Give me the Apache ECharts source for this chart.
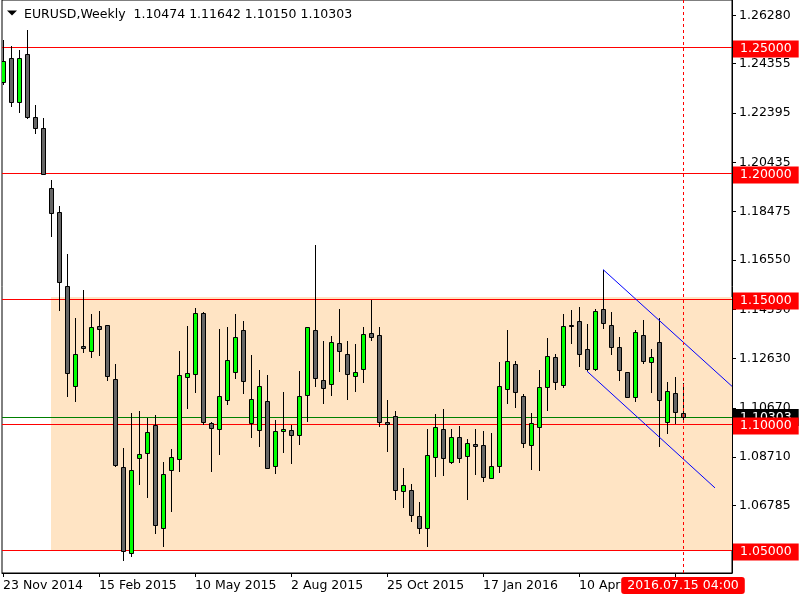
<!DOCTYPE html>
<html><head><meta charset="utf-8">
<script src="https://cdn.jsdelivr.net/npm/echarts@6/dist/echarts.min.js"></script>
<style>html,body{margin:0;padding:0;background:#fff}#c{width:800px;height:600px}</style>
</head><body><div id="c"></div>
<script>
const symbolTitle = 'EURUSD,Weekly';
const opens = [1.2361,1.2460,1.2285,1.2473,1.2222,1.2178,1.1943,1.1846,1.1552,1.1153,
1.1314,1.1295,1.1392,1.1395,1.1180,1.0832,1.0492,1.0866,1.0886,1.0998,
1.0588,1.0819,1.0862,1.1191,1.1200,1.1446,1.1006,1.0985,1.1100,1.1210,
1.1375,1.1005,1.0981,1.1096,1.0834,1.0977,1.0981,1.0961,1.1120,1.1376,
1.1176,1.1164,1.1327,1.1283,1.1192,1.1220,1.1363,1.1355,1.1009,1.1033,
1.0735,1.0739,1.0639,1.0591,1.0870,1.0985,1.0850,1.0953,1.0874,1.0922,
1.0918,1.0790,1.0834,1.1144,1.1240,1.1116,1.0918,1.0993,1.1152,1.1271,
1.1160,1.1397,1.1412,1.1300,1.1220,1.1462,1.1395,1.1311,1.1208,1.1112,
1.1355,1.1248,1.1331,1.1009,1.1128,1.10474];
const highs = [1.2529,1.2505,1.2492,1.2569,1.2271,1.2218,1.1975,1.1869,1.1678,1.1425,
1.1535,1.1442,1.1452,1.1396,1.1241,1.0906,1.1045,1.1054,1.1025,1.1038,
1.0852,1.0903,1.1292,1.1392,1.1466,1.1448,1.1009,1.1380,1.1387,1.1440,
1.1412,1.1279,1.1217,1.1197,1.1018,1.1129,1.0998,1.1214,1.1388,1.1714,
1.1332,1.1352,1.1460,1.1332,1.1320,1.1387,1.1495,1.1387,1.1098,1.1054,
1.0830,1.0764,1.0691,1.0982,1.1041,1.1062,1.0985,1.0994,1.0945,1.0985,
1.0977,1.0969,1.1248,1.1375,1.1252,1.1124,1.1045,1.1217,1.1343,1.1283,
1.1440,1.1456,1.1467,1.1400,1.1460,1.1617,1.1448,1.1347,1.1210,1.1375,
1.1416,1.1303,1.1426,1.1168,1.1189,1.11642];
const lows = [1.2355,1.2267,1.2244,1.2218,1.2160,1.1996,1.1751,1.1458,1.1114,1.1095,
1.1290,1.1270,1.1279,1.1177,1.0835,1.0464,1.0479,1.0766,1.0713,1.0568,
1.0518,1.0658,1.0817,1.1065,1.1131,1.1002,1.0817,1.0884,1.1083,1.1186,
1.1127,1.0952,1.0916,1.0827,1.0810,1.0892,1.0848,1.0925,1.1015,1.1155,
1.1087,1.1119,1.1214,1.1103,1.1135,1.1170,1.1335,1.0996,1.0896,1.0704,
1.0673,1.0618,1.0568,1.0518,1.0797,1.0802,1.0847,1.0852,1.0705,1.0806,
1.0778,1.0789,1.0813,1.1085,1.1069,1.0912,1.0826,1.0822,1.1057,1.1144,
1.1151,1.1325,1.1234,1.1217,1.1219,1.1385,1.1282,1.1178,1.1110,1.1096,
1.1244,1.1132,1.0914,1.0968,1.1005,1.10150];
const closes = [1.2447,1.2283,1.2460,1.2224,1.2178,1.1999,1.1840,1.1566,1.1204,1.1283,
1.1306,1.1387,1.1379,1.1192,1.0840,1.0497,1.0822,1.0884,1.0970,1.0603,
1.0806,1.0870,1.1197,1.1206,1.1446,1.1011,1.0989,1.1116,1.1259,1.1347,
1.1172,1.1104,1.1156,1.0830,1.0977,1.0985,1.0961,1.1114,1.1387,1.1184,
1.1148,1.1331,1.1295,1.1200,1.1208,1.1359,1.1347,1.1012,1.1003,1.0739,
1.0762,1.0643,1.0591,1.0878,1.0993,1.0866,1.0953,1.0866,1.0926,1.0914,
1.0794,1.0834,1.1156,1.1252,1.1132,1.0929,1.1005,1.1151,1.1275,1.1168,
1.1391,1.1393,1.1282,1.1222,1.1452,1.1403,1.1311,1.1216,1.1112,1.1367,
1.1252,1.1271,1.1100,1.1136,1.1049,1.10303];
const xTickIndex = [0,12,24,36,48,60,72,84];
const xTickLabels = ['23 Nov 2014','15 Feb 2015','10 May 2015','2 Aug 2015','25 Oct 2015','17 Jan 2016','10 Apr 2016','3 Jul 2016'];
const yTicks = [1.06785,1.08710,1.10670,1.12630,1.14590,1.16550,1.18475,1.20435,1.22395,1.24355,1.26280];
const levels = [1.25,1.20,1.15,1.10,1.05];
const currentPrice = 1.10303;
const zonePrices = [1.0502,1.1508];
const zoneStartIndex = 6;
const upperTrend = [[75,1.16173],[91.125,1.11528]];
const lowerTrend = [[73,1.12129],[89,1.07489]];
const markerIndex = 85;
const markerLabel = '2016.07.15 04:00';

const xMin = -0.125, xMax = 91.125;
const yMin = 1.041054, yMax = 1.268887;
const FONT = 'DejaVu Sans';
const FS = 12.5;

const chart = echarts.init(document.getElementById('c'), null, {renderer:'canvas'});
const candleData = opens.map((o,i)=>[i,o,closes[i],lows[i],highs[i]]);
const last = candleData.length-1;
const header = symbolTitle + '  ' + [opens[last],highs[last],lows[last],closes[last]].map(v=>v.toFixed(5)).join(' ');
const hLines = levels.map(v=>[v,'#ff0000']).concat([[currentPrice,'#008000']]);

const option = {
  animation:false,
  backgroundColor:'#ffffff',
  grid:{left:2,right:68,top:0,bottom:27,show:true,borderColor:'#000',borderWidth:1,backgroundColor:'#ffffff'},
  xAxis:{type:'value',min:xMin,max:xMax,
    axisLine:{show:true,onZero:false,lineStyle:{color:'#000',width:1}},
    axisTick:{show:true,customValues:xTickIndex,length:4,lineStyle:{color:'#000'}},
    axisLabel:{customValues:xTickIndex,formatter:v=>xTickLabels[xTickIndex.indexOf(Math.round(v))]||'',align:'left',margin:6,color:'#000',fontFamily:FONT,fontSize:FS},
    splitLine:{show:false},
    axisPointer:{show:true,type:'line',value:markerIndex,status:'show',snap:false,triggerTooltip:false,
      lineStyle:{color:'#ff0000',width:1,type:[3,3]},
      label:{show:true,formatter:()=>markerLabel,backgroundColor:'#ff0000',color:'#ffffff',padding:[2,6,2,6],margin:4,fontFamily:FONT,fontSize:FS,borderWidth:0,shadowBlur:0}}
  },
  yAxis:{type:'value',position:'right',min:yMin,max:yMax,scale:true,
    axisLine:{show:true,onZero:false,lineStyle:{color:'#000',width:1}},
    axisTick:{show:true,customValues:yTicks,length:4,lineStyle:{color:'#000'}},
    axisLabel:{customValues:yTicks,formatter:v=>v.toFixed(5),margin:7,color:'#000',fontFamily:FONT,fontSize:FS},
    splitLine:{show:false}
  },
  series:[
    {type:'line',data:[],z:1,silent:true,
      markArea:{silent:true,itemStyle:{color:'#FFE4C4',opacity:1},
        data:[[{xAxis:zoneStartIndex,yAxis:zonePrices[1]},{xAxis:xMax,yAxis:zonePrices[0]}]]}},
    {type:'custom',z:2,clip:true,silent:true,data:hLines,encode:{y:0},
      renderItem:(params,api)=>{
        const cs=params.coordSys;
        const y=Math.floor(api.coord([0,api.value(0)])[1])+0.5;
        return {type:'line',shape:{x1:cs.x,y1:y,x2:cs.x+cs.width,y2:y},style:{stroke:hLines[params.dataIndex][1],lineWidth:1}};
      }},
    {type:'custom',z:3,clip:true,silent:true,data:candleData,encode:{x:0,y:[1,2,3,4]},
      renderItem:(params,api)=>{
        const i=api.value(0),o=api.value(1),c=api.value(2),l=api.value(3),h=api.value(4);
        const pO=api.coord([i,o]),pC=api.coord([i,c]),pL=api.coord([i,l]),pH=api.coord([i,h]);
        const x=Math.floor(pO[0]+0.01)+0.5;
        const top=Math.round(Math.min(pO[1],pC[1]))+0.5;
        const bot=Math.round(Math.max(pO[1],pC[1]))+0.5;
        const up=c>=o;
        return {type:'group',children:[
          {type:'line',shape:{x1:x,y1:Math.round(pH[1]),x2:x,y2:Math.round(pL[1])+1},style:{stroke:'#000',lineWidth:1}},
          {type:'rect',shape:{x:x-2,y:top,width:4,height:Math.max(bot-top,1)},style:{fill:up?'#00ff00':'#666666',stroke:'#000',lineWidth:1}}
        ]};
      }},
    {type:'line',data:upperTrend,z:5,silent:true,symbol:'none',lineStyle:{color:'#0000ff',width:1},clip:true},
    {type:'line',data:lowerTrend,z:5,silent:true,symbol:'none',lineStyle:{color:'#0000ff',width:1},clip:true}
  ],
  graphic:[
    {type:'polygon',shape:{points:[[7,10.5],[17,10.5],[12,15.5]]},style:{fill:'#000'},z:100},
    {type:'text',x:24,y:14.5,style:{text:header,fill:'#000',font:FS+'px '+FONT,verticalAlign:'middle',align:'left'},z:100}
  ]
};
chart.setOption(option);

// price labels on the price scale
const labelEls = [];
const yCur = Math.floor(chart.convertToPixel({yAxisIndex:0},currentPrice))+0.5;
labelEls.push({type:'text',x:733,y:yCur,z:200,style:{text:currentPrice.toFixed(5),fill:'#fff',backgroundColor:'#000',padding:[2,7,2,7],font:FS+'px '+FONT,verticalAlign:'middle',align:'left'}});
levels.forEach(v=>{
  const y = Math.floor(chart.convertToPixel({yAxisIndex:0},v))+0.5;
  labelEls.push({type:'text',x:733,y:y+1.5,z:201,style:{text:v.toFixed(5),fill:'#fff',backgroundColor:'#ff0000',padding:[2,7,2,7],font:FS+'px '+FONT,verticalAlign:'middle',align:'left'}});
});
chart.setOption({graphic:option.graphic.concat(labelEls)});
</script></body></html>
